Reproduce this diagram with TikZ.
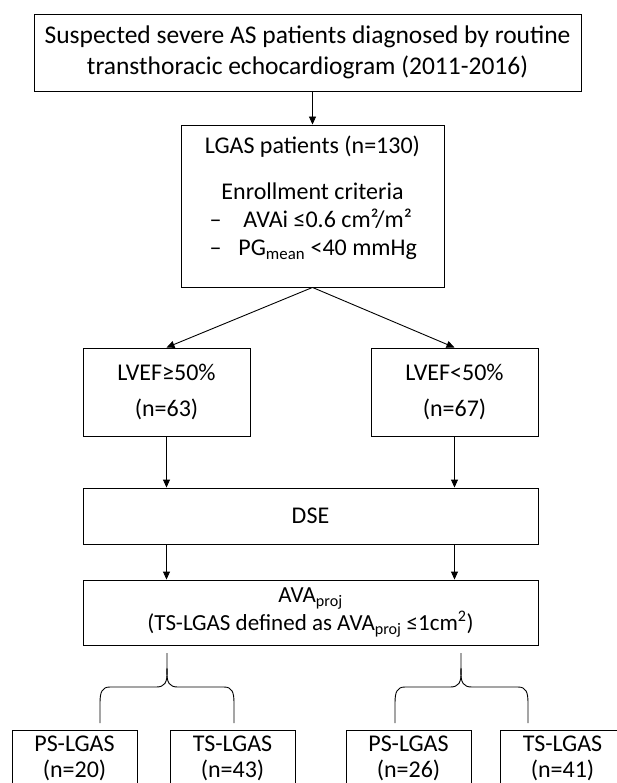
\documentclass[tikz,border=0pt]{standalone}
\usepackage{fontspec}
\setmainfont{Carlito}
\usetikzlibrary{positioning,arrows.meta}

\begin{document}
\begin{tikzpicture}[x=1pt,y=-1pt,
    box/.style={draw, line width=0.9pt, align=center, inner sep=0pt},
    arr/.style={-{Triangle[length=8pt,width=7pt]}, line width=0.9pt},
    brc/.style={line width=0.9pt}]
    \useasboundingbox (0,0) rectangle (617,783);
    \clip (0,0) rectangle (617,783);

    % Define boxes
    \node[box, minimum width=547, minimum height=77, font=\fontsize{25.5}{31}\selectfont] (susp) at (307.5,52.5)
        {Suspected severe AS patients diagnosed by routine\\transthoracic echocardiogram (2011-2016)};
    \node[draw, line width=0.9pt, inner sep=0pt, font=\fontsize{24}{28}\selectfont] (lgas) at (312.5,206)
        {\parbox[c][162pt][t]{263pt}{\vspace*{11pt}\centering
         LGAS patients (n=130)\par\vspace{18pt}
         Enrollment criteria\par
         \makebox[206pt][l]{–\hspace{22pt}AVAi ≤0.6 cm²/m²}\par
         \makebox[206pt][l]{–\hspace{17pt}PG\textsubscript{mean} <40 mmHg}}};
    \node[box, minimum width=167, minimum height=88, font=\fontsize{24}{36}\selectfont] (lvefhi) at (166.5,392) {LVEF≥50\%\\(n=63)};
    \node[box, minimum width=167, minimum height=88, font=\fontsize{24}{36}\selectfont] (lveflo) at (454.5,392) {LVEF<50\%\\(n=67)};
    \node[box, minimum width=455, minimum height=56, font=\fontsize{24}{28}\selectfont] (dse) at (310.5,516) {DSE};
    \node[box, minimum width=455, minimum height=65, font=\fontsize{23}{28}\selectfont] (ava) at (310.5,612.5)
        {AVA\textsubscript{proj}\\(TS-LGAS defined as AVA\textsubscript{proj} ≤1cm\textsuperscript{2})};
    \foreach \name/\xx/\grp/\num in {pshi/74.5/PS/20, tshi/232.5/TS/43, pslo/408.5/PS/26, tslo/562.5/TS/41} {
        \node[draw, line width=0.9pt, inner sep=0pt, anchor=north, font=\fontsize{24}{26}\selectfont] (\name) at (\xx,730)
            {\parbox[c][70pt][t]{125pt}{\vspace*{5pt}\centering \grp-LGAS\\(n=\num)}};
    }

    % Draw arrows
    \draw[arr] (lgas.north |- susp.south) -- (lgas.north);
    \draw[arr] (lgas.south) -- (lvefhi.north);
    \draw[arr] (lgas.south) -- (lveflo.north);
    \draw[arr] (lvefhi.south) -- (lvefhi.south |- dse.north);
    \draw[arr] (lveflo.south) -- (lveflo.south |- dse.north);
    \draw[arr] (lvefhi.south |- dse.south) -- (lvefhi.south |- ava.north);
    \draw[arr] (lveflo.south |- dse.south) -- (lveflo.south |- ava.north);

    % Draw braces
    \foreach \l/\m/\r in {100/167/234, 395/461/528} {
        \draw[brc] (\m,653) -- (\m,668)
            .. controls (\m+1,684) and (\m-3,687) .. (\m-11,687) -- (\l+10,687)
            .. controls (\l+2,687) and (\l,692) .. (\l,703) -- (\l,723);
        \draw[brc] (\m,668)
            .. controls (\m-1,684) and (\m+3,687) .. (\m+11,687) -- (\r-10,687)
            .. controls (\r-2,687) and (\r,692) .. (\r,703) -- (\r,723);
    }
\end{tikzpicture}
\end{document}
